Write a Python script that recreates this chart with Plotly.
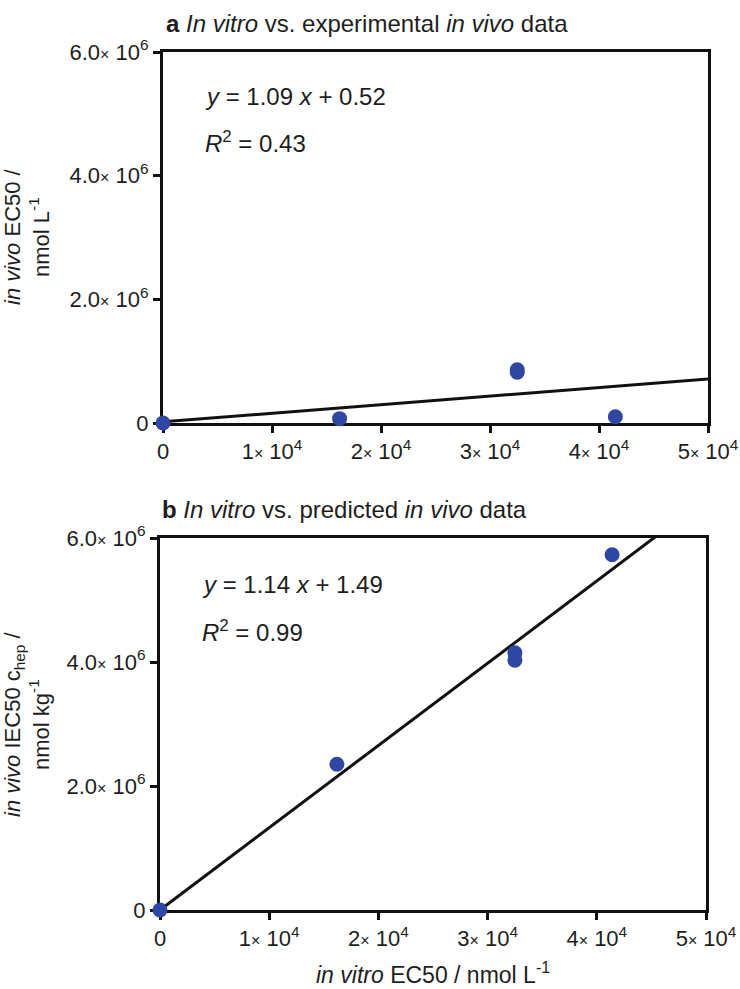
import plotly.graph_objects as go

# ---------------- data ----------------
# Panel a: in vitro EC50 vs experimental in vivo EC50
a_x = [0, 16200, 32500, 32500, 41500]
a_y = [0, 0.07e6, 0.82e6, 0.86e6, 0.10e6]
a_fit_intercept = 0.02e6
a_fit_slope = 13.8          # per nmol/L (drawn scale)

# Panel b: in vitro EC50 vs predicted in vivo IEC50 c_hep
b_x = [0, 16200, 32500, 32500, 41400]
b_y = [0, 2.35e6, 4.03e6, 4.15e6, 5.73e6]
b_fit_intercept = 0.0
b_fit_slope = 132.7

x_tickvals = [0, 1e4, 2e4, 3e4, 4e4, 5e4]
y_tickvals = [0, 2e6, 4e6, 6e6]

SMALLX = "<span style='font-size:16px'>×</span>"
x_ticktext = ["0"] + [f"{i}{SMALLX} 10<sup>4</sup>" for i in range(1, 6)]
y_ticktext = ["0"] + [f"{v}{SMALLX} 10<sup>6</sup>" for v in ["2.0", "4.0", "6.0"]]

FONT = "Liberation Sans, Arial, sans-serif"
BLUE = "#2f47a3"
TXT = "#1e1e1e"
W, H = 740, 989

fig = go.Figure()

def add_panel(xs, ys, slope, intercept, xa, ya):
    fx = [x_tickvals[0], x_tickvals[-1]]
    fy = [intercept + slope * v for v in fx]
    fig.add_trace(go.Scatter(x=fx, y=fy, mode="lines",
                             line=dict(color="#111111", width=3),
                             xaxis=xa, yaxis=ya, showlegend=False, hoverinfo="skip"))
    fig.add_trace(go.Scatter(x=xs, y=ys, mode="markers",
                             marker=dict(color=BLUE, size=15),
                             cliponaxis=False,
                             xaxis=xa, yaxis=ya, showlegend=False))

add_panel(a_x, a_y, a_fit_slope, a_fit_intercept, "x", "y")
add_panel(b_x, b_y, b_fit_slope, b_fit_intercept, "x2", "y2")

def px_x(p):
    return p / W

def px_y(p):
    return 1 - p / H

axis_common = dict(
    showline=True, linecolor="#111111", linewidth=3, mirror=True,
    ticks="outside", ticklen=7, tickwidth=3, tickcolor="#111111",
    showgrid=False, zeroline=False, layer="below traces",
    tickfont=dict(family=FONT, size=22, color=TXT),
    fixedrange=True, automargin=False,
)

fig.update_layout(
    width=W, height=H,
    margin=dict(l=0, r=0, t=0, b=0),
    paper_bgcolor="white", plot_bgcolor="white",
    font=dict(family=FONT, size=22, color=TXT),
    xaxis=dict(domain=[px_x(163), px_x(708)], range=[0, 5e4], anchor="y",
               tickvals=x_tickvals, ticktext=x_ticktext, **axis_common),
    yaxis=dict(domain=[px_y(423), px_y(52)], range=[0, 6e6], anchor="x",
               tickvals=y_tickvals, ticktext=y_ticktext, **axis_common),
    xaxis2=dict(domain=[px_x(160), px_x(706)], range=[0, 5e4], anchor="y2",
                tickvals=x_tickvals, ticktext=x_ticktext, **axis_common),
    yaxis2=dict(domain=[px_y(910), px_y(538)], range=[0, 6e6], anchor="x2",
                tickvals=y_tickvals, ticktext=y_ticktext, **axis_common),
)

def ann(text, x, y, xanchor="left", yanchor="middle", angle=0, size=22):
    fig.add_annotation(text=text, x=px_x(x), y=px_y(y), xref="paper", yref="paper",
                       xanchor=xanchor, yanchor=yanchor, textangle=angle,
                       showarrow=False, align="center",
                       font=dict(family=FONT, size=size, color=TXT))

# panel titles
ann("<b>a</b> <i>In vitro</i> vs. experimental <i>in vivo</i> data", 164, 23, size=24)
ann("<b>b</b> <i>In vitro</i> vs. predicted <i>in vivo</i> data", 160, 509, size=24)

# regression annotations
ann("<i>y</i> = 1.09 <i>x</i> + 0.52", 203, 97, size=24)
ann("<i>R</i><sup>2</sup> = 0.43", 203, 142, size=24)
ann("<i>y</i> = 1.14 <i>x</i> + 1.49", 200, 584, size=24)
ann("<i>R</i><sup>2</sup> = 0.99", 200, 631, size=24)

# axis titles
ann("<i>in vivo</i> EC50 /<br>nmol L<sup>-1</sup>", 27, 237, xanchor="center", angle=-90, size=22)
ann("<i>in vivo</i> IEC50 c<sub>hep</sub> /<br>nmol kg<sup>-1</sup>", 27, 724, xanchor="center", angle=-90, size=22)
ann("<i>in vitro</i> EC50 / nmol L<sup>-1</sup>", 433, 973, xanchor="center", size=23)

fig.write_html("out.html", config={"displayModeBar": False},
               post_script="document.body.style.margin='0px';")
